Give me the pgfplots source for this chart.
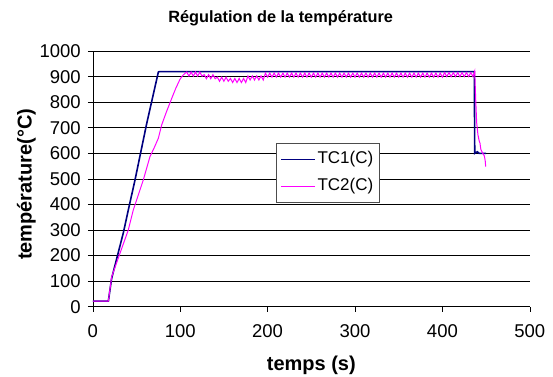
\documentclass[border=0pt]{standalone}
\usepackage{fontspec}
\setmainfont{Liberation Sans}
\usepackage{pgfplots}
\pgfplotsset{compat=1.18}
\definecolor{tcone}{HTML}{000080}
\definecolor{tctwo}{HTML}{FF00FF}
\begin{document}
\begin{tikzpicture}
\useasboundingbox (-92.8pt,-69.3pt) rectangle (460.2pt,306.7pt);
\begin{axis}[
  scale only axis,
  width=437pt, height=255.6pt,
  xmin=0, xmax=500, ymin=0, ymax=1000,
  xtick={0,100,...,500}, ytick={0,100,...,1000},
  axis lines*=left,
  axis line style={-, line width=0.6pt, black},
  x axis line style={-}, y axis line style={-},
  ymajorgrids,
  grid style={black, line width=0.6pt},
  tick align=outside,
  major tick length=5pt,
  tick style={black, line width=0.6pt},
  /pgf/number format/assume math mode=true,
  /pgf/number format/1000 sep={},
  tick label style={font=\fontsize{18.5}{20}\selectfont},
  xticklabel style={yshift=-9pt},
  yticklabel style={xshift=-3.5pt},
  title={Régulation de la température},
  every axis title/.style={at={(axis description cs:0.43,1.111)}, anchor=base, font=\fontsize{16.3}{18}\selectfont\bfseries},
  xlabel={temps (s)},
  every axis x label/.style={at={(axis description cs:0.5,-0.2477)}, anchor=base, font=\fontsize{20}{22}\selectfont\bfseries},
  ylabel={température(°C)},
  every axis y label/.style={at={(axis description cs:-0.140,0.479)}, anchor=base, rotate=90, font=\fontsize{20}{22}\selectfont\bfseries},
  legend cell align=left,
  legend image code/.code={\draw[#1, line width=0.8pt] (0pt,0pt) -- (34pt,0pt);},
  legend style={at={(0.419,0.639)}, anchor=north west, draw=black!70, line width=0.6pt,
    fill=white, inner xsep=4.5pt, inner ysep=5.8pt, row sep=6.7pt,
    font=\fontsize{17}{20}\selectfont,
    nodes={inner sep=2pt, text height=12.5pt, text depth=3.5pt}},
]
\addplot[color=tcone, line width=1.6pt] coordinates {
(0,22) (17.8,22) (21.5,110) (35,290) (40.6,378) (48.3,496) (61.7,717) (75,918) (76,920)
(150,920) (250,920) (350,920) (436.5,920) (437,600) (440,606) (442,600) (450,600)
};
\addlegendentry{TC1(C)}
\addplot[color=tctwo, line width=1pt] coordinates {
(0,22) (17.8,22) (21.6,117) (31.1,209) (40.6,300) (46.3,378) (57.8,496) (65.4,587) (70,620)
(75,659) (78.8,711) (84,760) (90.3,815) (95,855) (99.8,890) (103,905) (105.5,913)
(107.5,918) (110,902) (112.5,918) (115,902) (117.5,918) (120,902) (122.5,918) (125,902)
(127.5,908) (130,892) (132.5,908) (135,892) (137.5,908) (140,892)
(142.5,898) (145,882) (147.5,898) (150,882) (152.5,898) (155,882)
(157.5,893) (160,877) (162.5,893) (165,877) (167.5,893) (170,877) (172.5,893) (175,877)
(177.5,903) (180,887) (182.5,903) (185,887) (187.5,903) (190,887) (192.5,903) (195,887)
(197.5,914) (200,898) (202.5,914) (205,898) (207.5,914) (210,898) (212.5,914) (215,898)
(217.5,914) (220,898) (222.5,914) (225,898) (227.5,914) (230,898) (232.5,914) (235,898)
(237.5,914) (240,898) (242.5,914) (245,898) (247.5,914) (250,898) (252.5,914) (255,898)
(257.5,914) (260,898) (262.5,914) (265,898) (267.5,914) (270,898) (272.5,914) (275,898)
(277.5,914) (280,898) (282.5,914) (285,898) (287.5,914) (290,898) (292.5,914) (295,898)
(297.5,914) (300,898) (302.5,914) (305,898) (307.5,914) (310,898) (312.5,914) (315,898)
(317.5,914) (320,898) (322.5,914) (325,898) (327.5,914) (330,898) (332.5,914) (335,898)
(337.5,914) (340,898) (342.5,914) (345,898) (347.5,914) (350,898) (352.5,914) (355,898)
(357.5,914) (360,898) (362.5,914) (365,898) (367.5,914) (370,898) (372.5,914) (375,898)
(377.5,914) (380,898) (382.5,914) (385,898) (387.5,914) (390,898) (392.5,914) (395,898)
(397.5,914) (400,898) (402.5,916) (405,900) (407.5,916) (410,900) (412.5,916) (415,900)
(417.5,916) (420,900) (422.5,916) (425,900) (427.5,916) (430,900) (432.5,916) (435,900)
(437,922) (438,820) (439.2,720) (440.7,672) (442,650) (443,640) (444,615) (446,601)
(448,590) (449,570) (449.5,548)
};
\addlegendentry{TC2(C)}
\end{axis}
\end{tikzpicture}
\end{document}
